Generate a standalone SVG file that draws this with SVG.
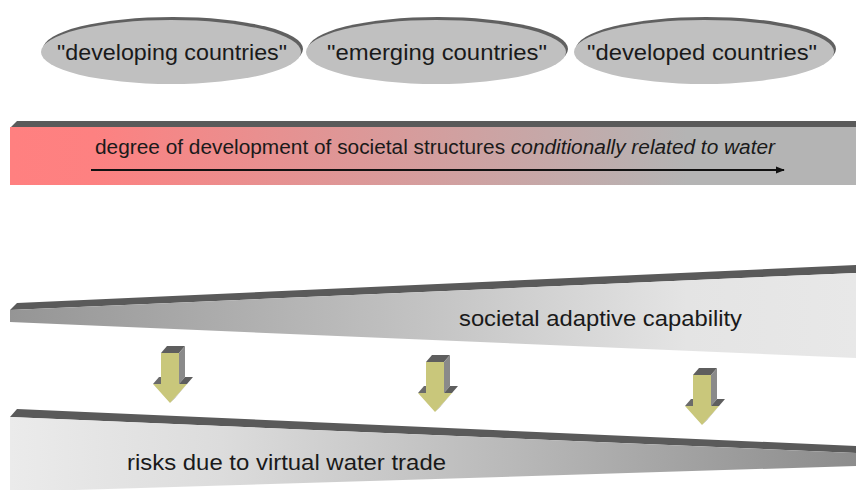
<svg xmlns="http://www.w3.org/2000/svg" width="856" height="490" viewBox="0 0 856 490">
<defs>
<linearGradient id="gTop" x1="10" y1="0" x2="856" y2="0" gradientUnits="userSpaceOnUse">
<stop offset="0" stop-color="#ff8080"/><stop offset="0.1" stop-color="#fd8181"/><stop offset="0.8" stop-color="#b4b4b4"/><stop offset="1" stop-color="#b4b4b4"/>
</linearGradient>
<linearGradient id="gMid" x1="10" y1="0" x2="856" y2="0" gradientUnits="userSpaceOnUse">
<stop offset="0" stop-color="#959595"/><stop offset="0.5" stop-color="#c4c4c4"/><stop offset="0.8" stop-color="#e4e4e4"/><stop offset="1" stop-color="#e8e8e8"/>
</linearGradient>
<linearGradient id="gBot" x1="10" y1="0" x2="856" y2="0" gradientUnits="userSpaceOnUse">
<stop offset="0" stop-color="#ebebeb"/><stop offset="0.25" stop-color="#dcdcdc"/><stop offset="0.6" stop-color="#b8b8b8"/><stop offset="1" stop-color="#8c8c8c"/>
</linearGradient>
<marker id="ah" viewBox="0 0 10 10" refX="9" refY="5" markerWidth="9" markerHeight="9" orient="auto" markerUnits="userSpaceOnUse">
<path d="M0,1 L10,5 L0,9 Z" fill="#111"/>
</marker>
<g id="arrow">
<polygon points="0,0 6,-7 24,-7 18,0" fill="#5e5e5e"/>
<polygon points="18,0 24,-7 24,24 18,31" fill="#8a8a8a"/>
<polygon points="-8,31 -2,24 0,24 0,31" fill="#6a6a6a"/>
<polygon points="18,31 24,24 32,24 26,31" fill="#5e5e5e"/>
<polygon points="26,31 32,24 14,45 9,50" fill="#8a8a8a"/>
<polygon points="0,0 18,0 18,31 26,31 9,50 -8,31 0,31" fill="#c9c77b"/>
</g>
</defs>
<style>
.t{font-family:"Liberation Sans",Arial,sans-serif;fill:#1a1a1a}
.ell{fill:#c0c0c0}
.shd{fill:#606060}
.dark{fill:#5a5a5a}
</style>
<rect width="856" height="490" fill="#ffffff"/>

<g id="developing">
<ellipse class="shd" cx="173" cy="49" rx="130" ry="32"/>
<ellipse class="ell" cx="171" cy="52" rx="130" ry="32"/>
<text class="t" x="57" y="60" font-size="22" textLength="230" lengthAdjust="spacingAndGlyphs">"developing countries"</text>
</g>
<g id="emerging">
<ellipse class="shd" cx="438" cy="49" rx="130" ry="32"/>
<ellipse class="ell" cx="436" cy="52" rx="130" ry="32"/>
<text class="t" x="327" y="60" font-size="22" textLength="220" lengthAdjust="spacingAndGlyphs">"emerging countries"</text>
</g>
<g id="developed">
<ellipse class="shd" cx="706" cy="49" rx="130" ry="32"/>
<ellipse class="ell" cx="704" cy="52" rx="130" ry="32"/>
<text class="t" x="587" y="60" font-size="22" textLength="230" lengthAdjust="spacingAndGlyphs">"developed countries"</text>
</g>

<g id="development-bar">
<polygon class="dark" points="10,128 17,121 856,121 856,128"/>
<rect x="10" y="127" width="846" height="58" fill="url(#gTop)"/>
<text class="t" x="95" y="154" font-size="20" textLength="680" lengthAdjust="spacingAndGlyphs">degree of development of societal structures <tspan font-style="italic">conditionally related to water</tspan></text>
</g>

<g id="connectors">
<line x1="91" y1="170" x2="784" y2="170" stroke="#111" stroke-width="2" marker-end="url(#ah)"/>
</g>

<g id="adaptive-capability">
<polygon class="dark" points="10,310 17,303 856,265 856,273"/>
<polygon points="10,310 856,273 856,358 10,322" fill="url(#gMid)"/>
<text class="t" x="459" y="326" font-size="22" textLength="283" lengthAdjust="spacingAndGlyphs">societal adaptive capability</text>
</g>

<g id="risks">
<polygon class="dark" points="10,417 17,409 856,446 856,453"/>
<polygon points="10,417 856,453 856,466 10,492" fill="url(#gBot)"/>
<text class="t" x="127" y="470" font-size="22" textLength="319" lengthAdjust="spacingAndGlyphs">risks due to virtual water trade</text>
</g>

<g id="arrow1"><use href="#arrow" transform="translate(161,353)"/></g>
<g id="arrow2"><use href="#arrow" transform="translate(426,362)"/></g>
<g id="arrow3"><use href="#arrow" transform="translate(693,375)"/></g>
</svg>
